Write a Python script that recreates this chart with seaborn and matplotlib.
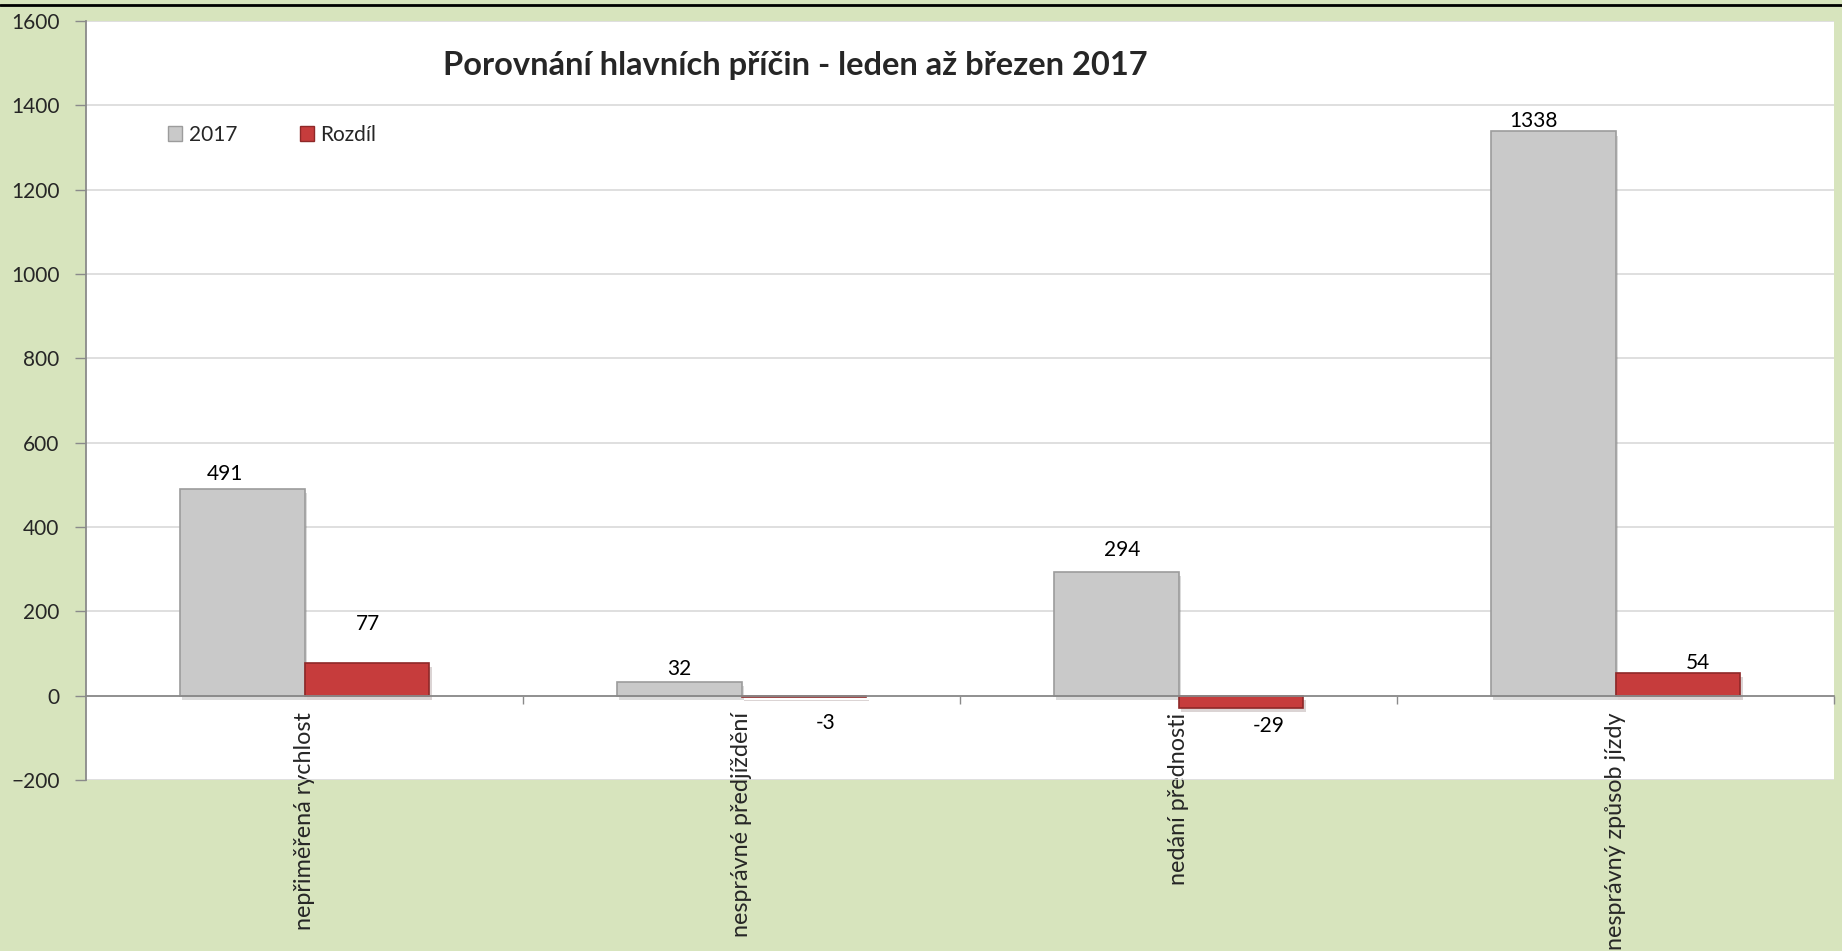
import numpy as np
import matplotlib.pyplot as plt
import pandas as pd
import seaborn as sns
from matplotlib import patheffects
from matplotlib.patches import Patch
from matplotlib.lines import Line2D

causes = ["nepřiměřená rychlost", "nesprávné předjíždění", "nedání přednosti", "nesprávný způsob jízdy"]
values_2017 = [491, 32, 294, 1338]
values_diff = [77, -3, -29, 54]
series = ["2017", "Rozdíl"]
yticks = list(range(-200, 1601, 200))
title = "Porovnání hlavních příčin - leden až březen 2017"

colors = {"2017": "#c9c9c9", "Rozdíl": "#c63c3c"}
edges = {"2017": "#9c9c9c", "Rozdíl": "#8e2828"}
# where Excel put the data labels, in pixels from the bar end
label_offsets = {"2017": [(-17, 15), (0, 13), (6, 22), (-20, 10)],
                 "Rozdíl": [(1, 39), (22, -26), (28, -18), (20, 10)]}

df = pd.DataFrame({
    "cause": causes * 2,
    "series": np.repeat(series, len(causes)),
    "value": values_2017 + values_diff,
})

sns.set_theme(style="white")
plt.rcParams["font.family"] = ["Lato", "DejaVu Sans"]

fig = plt.figure(figsize=(18.42, 9.51), dpi=100, facecolor="#d7e4bd")
ax = fig.add_axes([86 / 1842, 171 / 951, 1748 / 1842, 759 / 951])
ax.set_facecolor("white")

sns.barplot(data=df, x="cause", y="value", hue="series", palette=colors,
            width=0.572, saturation=1, legend=False, ax=ax)

shadow = [patheffects.SimplePatchShadow(offset=(2, -3), alpha=0.18), patheffects.Normal()]
for name, cont in zip(series, ax.containers):
    for bar, (dx, dy) in zip(cont, label_offsets[name]):
        bar.set_edgecolor(edges[name])
        bar.set_linewidth(1.2)
        bar.set_path_effects(shadow)
        h = bar.get_height()
        ax.annotate(f"{h:.0f}", xy=(bar.get_x() + bar.get_width() / 2, h),
                    xytext=(dx, dy), textcoords="offset pixels",
                    ha="center", va="center", fontsize=15, color="black")

ax.set_ylim(-200, 1600)
ax.set_xlim(-0.5, 3.5)
ax.set_yticks(yticks)
ax.set_xlabel("")
ax.set_ylabel("")
ax.yaxis.grid(True, color="#d9d9d9", lw=1.2)
ax.set_axisbelow(True)

for s in ["top", "right"]:
    ax.spines[s].set_visible(False)
ax.spines["bottom"].set_position(("data", 0))
for s in ["left", "bottom"]:
    ax.spines[s].set_color("#8a8a8a")
    ax.spines[s].set_linewidth(1.3)

ax.tick_params(axis="y", length=8, width=1, color="#8a8a8a", labelsize=15, pad=11, left=True)
ax.set_xticks(range(len(causes)))
ax.set_xticklabels(causes, rotation=90, va="top", ha="center")
ax.set_xticks([0.5, 1.5, 2.5, 3.5], minor=True)
ax.tick_params(axis="x", which="major", length=0, labelsize=16.8, pad=12)
ax.tick_params(axis="x", which="minor", length=6, width=1, color="#8a8a8a", bottom=True)

ax.text(0.4056, 0.942, title, transform=ax.transAxes, ha="center", va="center",
        fontsize=23.5, fontweight="bold")

handles = [Patch(facecolor=colors[s], edgecolor=edges[s]) for s in series]
ax.legend(handles, series, loc="center left", bbox_to_anchor=(0.036, 0.85), ncol=2,
          frameon=False, fontsize=15, handlelength=0.7, handleheight=0.7,
          handletextpad=0.3, columnspacing=3.0)

fig.add_artist(Line2D([0, 1], [1 - 5 / 951] * 2, color="black", lw=2, transform=fig.transFigure))

fig.savefig("out.png", dpi=100, facecolor=fig.get_facecolor())
